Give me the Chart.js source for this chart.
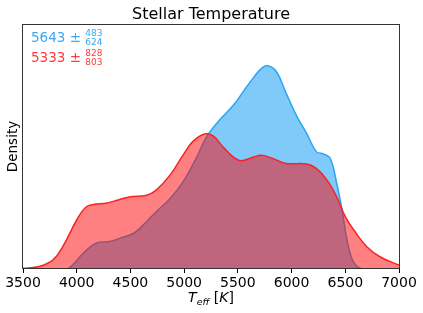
<!DOCTYPE html>
<html>
<head>
<meta charset="utf-8">
<script src="https://cdn.jsdelivr.net/npm/chart.js@4/dist/chart.umd.min.js"></script>
<style>
  html, body { margin: 0; padding: 0; background: #fff; }
  #wrap { width: 423px; height: 313px; position: relative; }
</style>
</head>
<body>
<div id="wrap"><canvas id="c"></canvas></div>
<script>
// temperature grid (K) and density (arbitrary units, 1e-3 / K)
var tempsA = [3500, 3900, 3960, 4060, 4180, 4310, 4400, 4530, 4620, 4740, 4870, 5000, 5120, 5210, 5330,
  5460, 5550, 5640, 5720, 5780, 5860, 5950, 6050, 6140, 6230, 6300, 6360, 6420, 6470, 6510, 6560, 6610, 6670, 7000];
var densA = [0, 0, 0.016, 0.064, 0.105, 0.112, 0.125, 0.146, 0.180, 0.234, 0.288, 0.363, 0.459, 0.540, 0.608,
  0.669, 0.724, 0.778, 0.819, 0.830, 0.805, 0.717, 0.622, 0.554, 0.479, 0.469, 0.452, 0.350, 0.241, 0.132, 0.044, 0.010, 0, 0];

var tempsB = [3500, 3650, 3780, 3870, 4000, 4090, 4180, 4270, 4400, 4500, 4650, 4740, 4870, 5000, 5080,
  5190, 5270, 5360, 5460, 5530, 5640, 5720, 5830, 5950, 6140, 6230, 6330, 6420, 6500, 6580, 6700, 6830, 7000];
var densB = [0.003, 0.010, 0.037, 0.091, 0.200, 0.254, 0.265, 0.268, 0.284, 0.295, 0.301, 0.322, 0.384, 0.472, 0.520,
  0.551, 0.543, 0.499, 0.456, 0.442, 0.456, 0.464, 0.450, 0.431, 0.429, 0.411, 0.363, 0.295, 0.214, 0.159, 0.091, 0.048, 0.016];

var statsA = { value: '5643', plus: '483', minus: '624' };
var statsB = { value: '5333', plus: '828', minus: '803' };
var titleText = 'Stellar Temperature';
var yLabel = 'Density';

var FONT = "'DejaVu Sans', sans-serif";
var blueLine = '#2aa6f5', blueFill = 'rgba(1,149,243,0.5)', blueText = '#3aa8f5';
var redLine = '#fa2222', redFill = 'rgba(255,1,1,0.5)', redText = '#ff3b3b';

function pts(xs, ys) {
  var out = [];
  for (var i = 0; i < xs.length; i += 1) out.push({ x: xs[i], y: ys[i] });
  return out;
}

function drawStats(ctx, s, x, base, color) {
  ctx.fillStyle = color;
  ctx.textBaseline = 'alphabetic';
  ctx.textAlign = 'left';
  ctx.font = '13.5px ' + FONT;
  var t = s.value + ' \u00b1 ';
  ctx.fillText(t, x, base);
  var w = ctx.measureText(t).width;
  ctx.font = '9px ' + FONT;
  ctx.fillText(s.plus, x + w, base - 6);
  ctx.fillText(s.minus, x + w, base + 3);
}

var decor = {
  id: 'decor',
  afterDraw: function (chart) {
    var ctx = chart.ctx;
    var a = chart.chartArea;
    ctx.save();
    // frame
    ctx.strokeStyle = '#333';
    ctx.lineWidth = 1;
    ctx.strokeRect(Math.round(a.left) - 0.5, Math.round(a.top) + 0.5, Math.round(a.right - a.left) + 1, Math.round(a.bottom - a.top) - 1);
    // title
    ctx.fillStyle = '#000';
    ctx.textAlign = 'center';
    ctx.textBaseline = 'alphabetic';
    ctx.font = '16px ' + FONT;
    ctx.fillText(titleText, (a.left + a.right) / 2, 19);
    // y label
    ctx.save();
    ctx.translate(17, (a.top + a.bottom) / 2);
    ctx.rotate(-Math.PI / 2);
    ctx.font = '13.5px ' + FONT;
    ctx.fillText(yLabel, 0, 0);
    ctx.restore();
    // x label: T_eff [K]
    var parts = [
      { t: 'T', f: 'italic 14px ' + FONT, dy: 0 },
      { t: 'eff', f: 'italic 9.5px ' + FONT, dy: 3 },
      { t: ' [', f: '14px ' + FONT, dy: 0 },
      { t: 'K', f: 'italic 14px ' + FONT, dy: 0 },
      { t: ']', f: '14px ' + FONT, dy: 0 }
    ];
    var total = 0;
    parts.forEach(function (p) { ctx.font = p.f; p.w = ctx.measureText(p.t).width; total += p.w; });
    var x = (a.left + a.right) / 2 - total / 2;
    ctx.textAlign = 'left';
    parts.forEach(function (p) { ctx.font = p.f; ctx.fillText(p.t, x, 302 + p.dy); x += p.w; });
    // stats text
    drawStats(ctx, statsA, a.left + 8, 42, blueText);
    drawStats(ctx, statsB, a.left + 8, 62, redText);
    ctx.restore();
  }
};

new Chart(document.getElementById('c').getContext('2d'), {
  type: 'line',
  data: {
    datasets: [
      { label: 'A', data: pts(tempsA, densA), borderColor: blueLine, backgroundColor: blueFill, fill: 'origin',
        borderWidth: 1.5, pointRadius: 0, tension: 0.4, order: 1 },
      { label: 'B', data: pts(tempsB, densB), borderColor: redLine, backgroundColor: redFill, fill: 'origin',
        borderWidth: 1.5, pointRadius: 0, tension: 0.4, order: 0 }
    ]
  },
  options: {
    responsive: true,
    maintainAspectRatio: false,
    animation: false,
    layout: { padding: { left: 23, right: 24, top: 24, bottom: 0 } },
    plugins: { legend: { display: false }, tooltip: { enabled: false } },
    scales: {
      x: {
        type: 'linear', min: 3500, max: 7000,
        afterFit: function (scale) { scale.height = 44; },
        grid: { drawOnChartArea: false, drawTicks: true, tickLength: 4, color: '#000', lineWidth: 1 },
        border: { display: false },
        ticks: { stepSize: 500, color: '#000', font: { family: FONT, size: 14 }, padding: 2, maxRotation: 0,
          callback: function (v) { return String(v); } }
      },
      y: { display: false, min: 0, max: 1 }
    }
  },
  plugins: [decor]
});
</script>
</body>
</html>
